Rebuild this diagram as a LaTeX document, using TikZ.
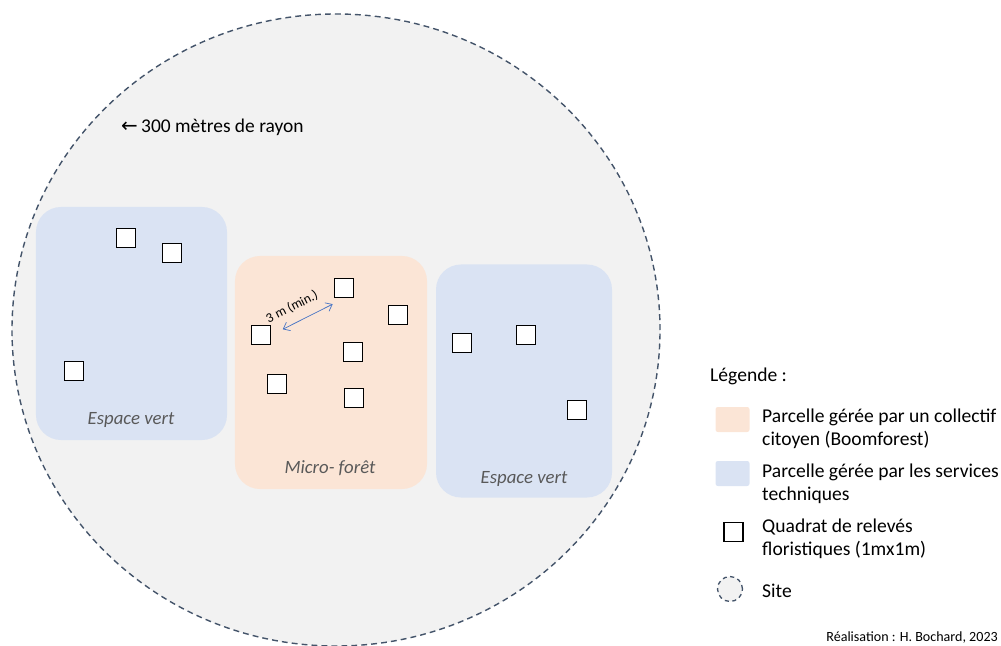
\documentclass[tikz,border=0pt]{standalone}
\usepackage{fontspec}
\setmainfont{Carlito}
\newfontfamily\symbfont{DejaVu Sans}
\usetikzlibrary{positioning,arrows.meta}

\definecolor{sitegris}{HTML}{F2F2F2}
\definecolor{sitebord}{HTML}{44546A}
\definecolor{vertbleu}{HTML}{DAE3F3}
\definecolor{microrose}{HTML}{FBE5D6}
\definecolor{flechebleu}{HTML}{4472C4}
\definecolor{textegris}{HTML}{595959}

\begin{document}
\begin{tikzpicture}[
    x=0.03cm, y=-0.03cm,
    site/.style={draw=sitebord, fill=sitegris, line width=1.2pt, dash pattern=on 5pt off 3.5pt},
    plot/.style={rounded corners=0.75cm, inner sep=0pt, minimum height=6.99cm},
    plotlabel/.style={font=\itshape\fontsize{16}{18}\selectfont, text=textegris, inner sep=0pt},
    quadrat/.style={draw, fill=white, line width=1.6pt, minimum size=0.57cm, inner sep=0pt},
    legtext/.style={font=\fontsize{16.7}{19.6}\selectfont, align=left, anchor=west, inner sep=0pt},
    swatch/.style={rounded corners=2pt, minimum width=1.02cm, minimum height=0.75cm, inner sep=0pt},
    >={Straight Barb[length=5pt,width=8pt]}
]
\useasboundingbox (0,0) rectangle (1001,646);

% Site
\path[site] (336,330) ellipse [x radius=9.72cm, y radius=9.48cm];
\node[legtext, anchor=west, font=\fontsize{16.6}{19.6}\selectfont] (rayon) at (121,127) {{\symbfont\fontsize{17}{19}\selectfont ←}\,300 mètres de rayon};

% Parcelles
\node[plot, fill=vertbleu, minimum width=5.73cm] (vert1) at (131.5,323.5) {};
\node[plot, fill=microrose, minimum width=5.76cm] (micro) at (331,372.5) {};
\node[plot, fill=vertbleu, minimum width=5.28cm] (vert2) at (524,381) {};
\node[plotlabel] (vert1lab) at (131,420) {Espace vert};
\node[plotlabel] (microlab) at (330,468) {Micro- forêt};
\node[plotlabel] (vert2lab) at (524,479) {Espace vert};

% Quadrats
\foreach \nom/\pos in {q1/{(126,238)}, q2/{(172,253)}, q3/{(74,371)},
    q4/{(344,288)}, q5/{(398,315)}, q6/{(261,335)}, q7/{(353,352)}, q8/{(277,384)}, q9/{(354,398)},
    q10/{(462,343)}, q11/{(526,335)}, q12/{(577,410)}}
    \node[quadrat] (\nom) at \pos {};

% Distance minimale
\draw[<->, flechebleu, line width=0.6pt, shorten <=0.38cm, shorten >=0.38cm] (q6.east) -- node[sloped, above=8pt, pos=0.38, font=\fontsize{11.5}{13}\selectfont, text=black, inner sep=0pt] (dist) {3 m (min.)} (q4.south);

% Legende
\node[legtext] (leg) at (710,376) {Légende :};
\node[swatch, fill=microrose] (legmicro) at (732.5,419.5) {};
\node[legtext] (legmicrotxt) at (762,428.5) {Parcelle gérée par un collectif\\citoyen (Boomforest)};
\node[swatch, fill=vertbleu] (legvert) at (732.5,473.5) {};
\node[legtext] (legverttxt) at (762,483.5) {Parcelle gérée par les services\\techniques};
\node[quadrat] (legquad) at (733.5,532) {};
\node[legtext] (legquadtxt) at (762,538.5) {Quadrat de relevés\\floristiques (1mx1m)};
\node[draw=sitebord, fill=sitegris, circle, line width=1.1pt, dash pattern=on 3.5pt off 3pt, minimum size=0.75cm, inner sep=0pt] (legsite) at (730,589) {};
\node[legtext] (legsitetxt) at (762,591) {Site};

\node[font=\fontsize{12}{14}\selectfont, anchor=south east, inner sep=0pt] (credit) at (998,644) {Réalisation : H. Bochard, 2023};
\end{tikzpicture}
\end{document}
